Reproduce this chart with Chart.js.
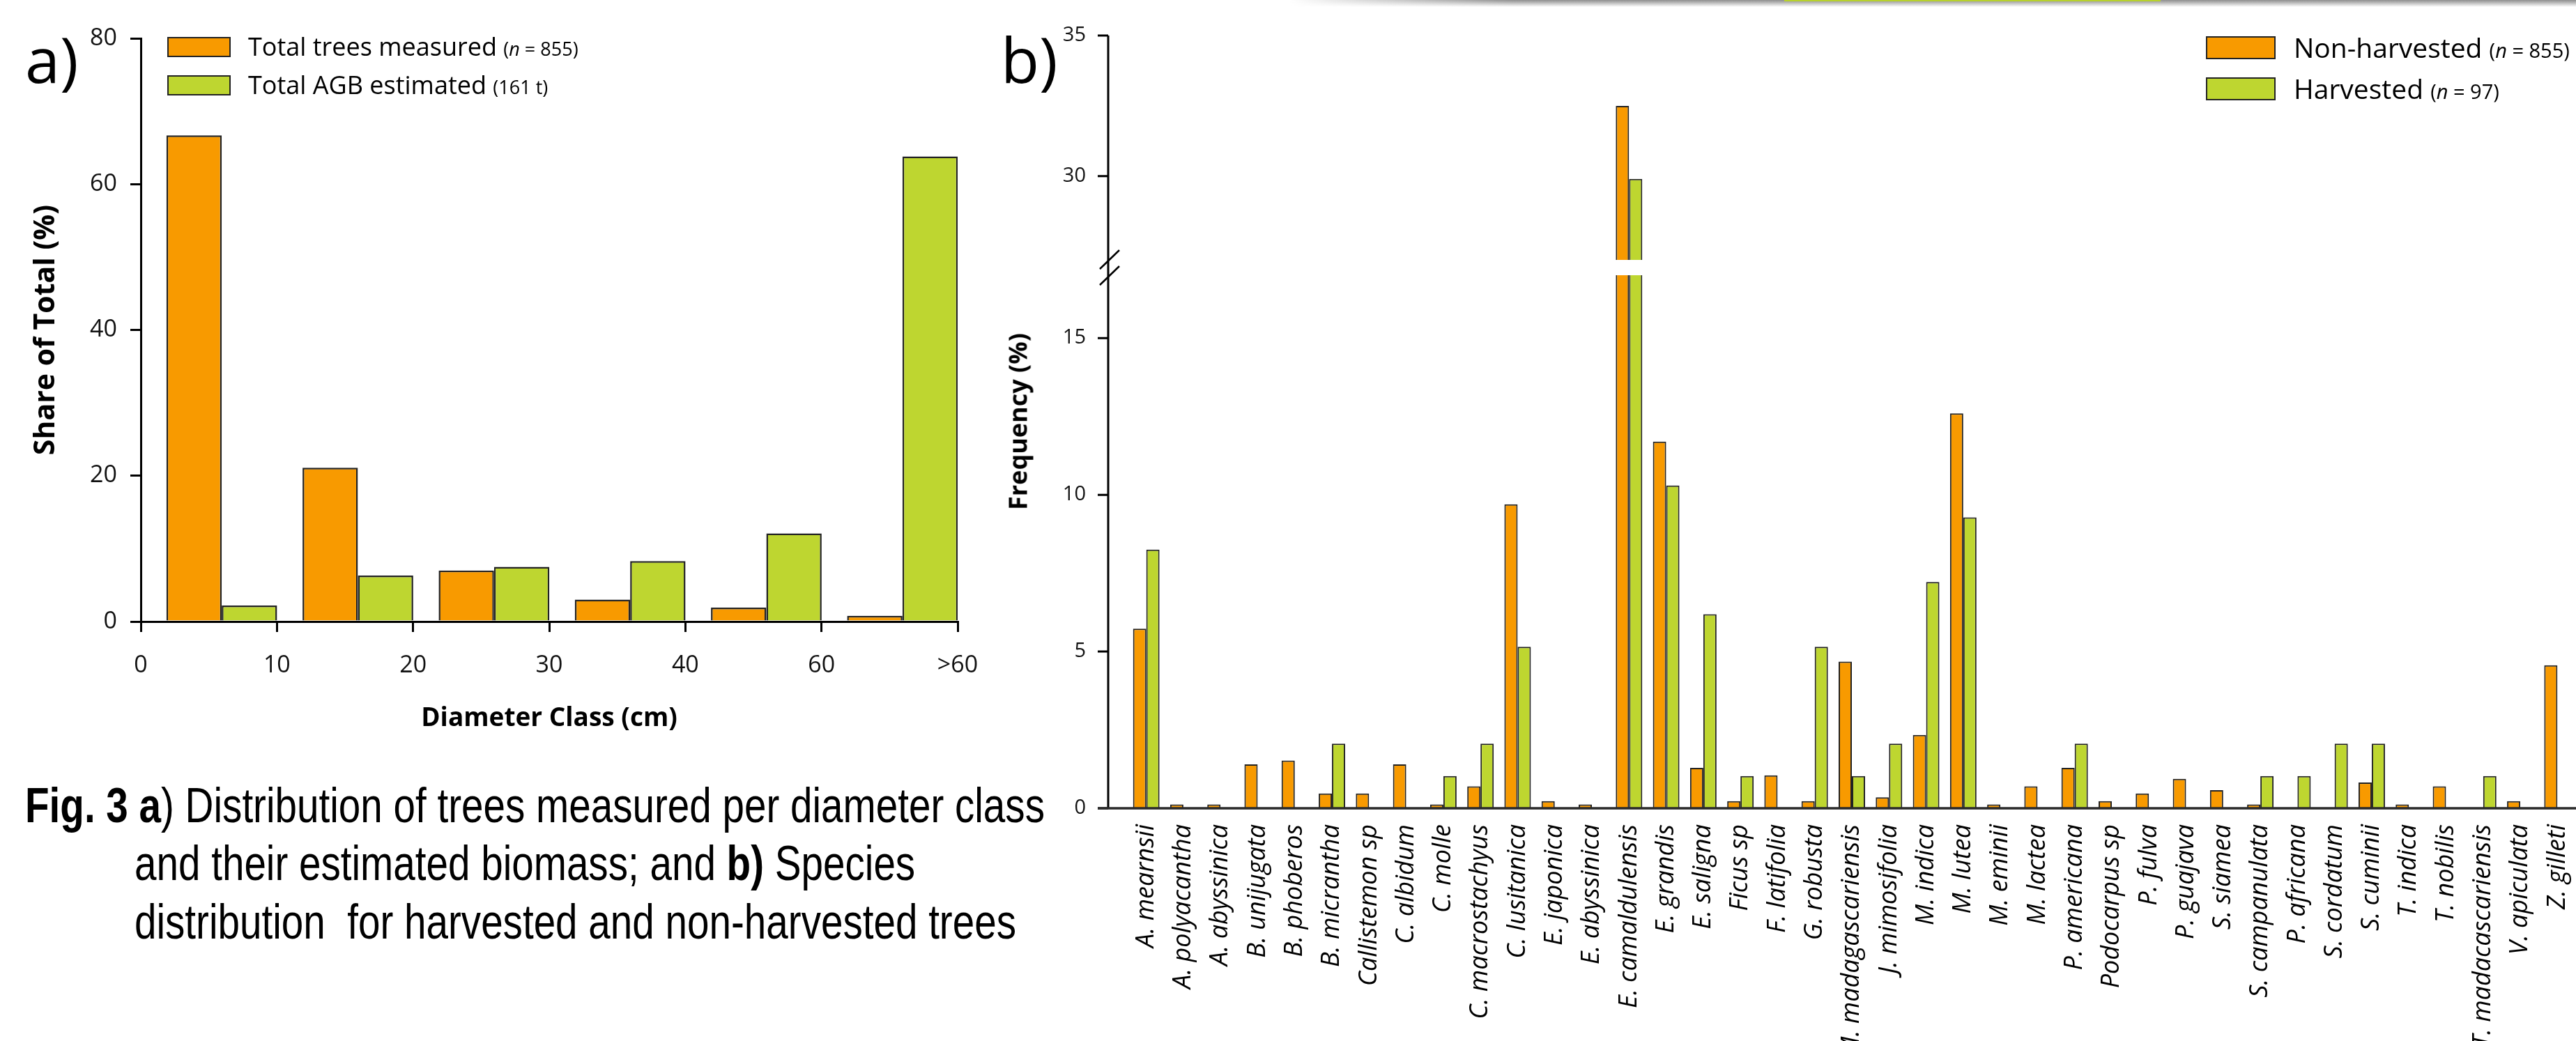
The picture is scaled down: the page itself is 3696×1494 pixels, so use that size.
<!DOCTYPE html>
<html>
<head>
<meta charset="utf-8">
<script src="https://cdn.jsdelivr.net/npm/chart.js@4/dist/chart.umd.min.js"></script>
<style>
  html, body { margin: 0; padding: 0; background: #fff; }
  body { width: 3696px; height: 1494px; position: relative; overflow: hidden; font-family: "Open Sans", sans-serif; color: #000; }
  canvas { position: absolute; top: 0; }
  #chartA { left: 0; }
  #chartB { left: 1380px; }
  .abs { position: absolute; white-space: nowrap; }
  .panel { font-size: 90px; line-height: 90px; }
  .box { position: absolute; border: 2px solid #222; box-sizing: border-box; }
  .leg { position: absolute; white-space: nowrap; }
  .cap { position: absolute; white-space: nowrap; font-family: "Liberation Sans", Arial, sans-serif; font-size: 70px; line-height: 84px; transform-origin: 0 0; }
  .ytitle { position: absolute; white-space: nowrap; font-family: "Open Sans", sans-serif; font-weight: bold; font-size: 36px; transform: translate(-50%, -50%) rotate(-90deg); }
  .shade { position: absolute; top: 0; left: 1850px; width: 1846px; height: 10px;
           background: linear-gradient(to bottom, #8e8e8e, rgba(255,255,255,0));
           -webkit-mask-image: linear-gradient(to right, transparent, #000 320px); }
  .gline { position: absolute; top: 0; left: 2560px; width: 540px; height: 2px; background: #b7d12c; }
</style>
</head>
<body>
<div class="shade"></div>
<div class="gline"></div>

<canvas id="chartA" width="1420" height="1090"></canvas>
<canvas id="chartB" width="2316" height="1494"></canvas>

<div class="abs panel" style="left:36px; top:39px;">a)</div>
<div class="abs panel" style="left:1436px; top:39px;">b)</div>

<!-- legend a -->
<div class="box" style="left:240px; top:53px; width:91px; height:29px; background:#F89A00;"></div>
<div class="box" style="left:240px; top:108px; width:91px; height:29px; background:#BED630;"></div>
<div class="leg" style="left:356px; top:49px; font-size:36px; line-height:36px;">Total trees measured <span style="font-size:27px">(<i>n</i> = 855)</span></div>
<div class="leg" style="left:356px; top:104px; font-size:36px; line-height:36px;">Total AGB estimated <span style="font-size:27px">(161 t)</span></div>

<!-- legend b -->
<div class="box" style="left:3165px; top:52px; width:100px; height:33px; background:#F89A00;"></div>
<div class="box" style="left:3165px; top:111px; width:100px; height:33px; background:#BED630;"></div>
<div class="leg" style="left:3291px; top:48px; font-size:39px; line-height:39px;">Non-harvested <span style="font-size:29px">(<i>n</i> = 855)</span></div>
<div class="leg" style="left:3291px; top:107px; font-size:39px; line-height:39px;">Harvested <span style="font-size:29px">(<i>n</i> = 97)</span></div>

<div class="ytitle" style="left:1460px; top:605px;">Frequency (%)</div>

<div class="cap" id="cap1" style="left:36px; top:1114px;"><b>Fig. 3 a</b>) Distribution of trees measured per diameter class</div>
<div class="cap" id="cap2" style="left:193px; top:1197px;">and their estimated biomass; and <b>b)</b> Species</div>
<div class="cap" id="cap3" style="left:193px; top:1281px;">distribution&nbsp; for harvested and non-harvested trees</div>

<script>
// ---- data: a) diameter classes ----
const diameterEdges = ['0', '10', '20', '30', '40', '60', '>60'];
const treesMeasured = [66.7, 21.1, 7.0, 3.0, 1.9, 0.8];
const agbEstimated = [2.2, 6.3, 7.5, 8.3, 12.1, 63.8];

// ---- data: b) species ----
const species = [
  'A. mearnsii', 'A. polyacantha', 'A. abyssinica', 'B. unijugata', 'B. phoberos',
  'B. micrantha', 'Callistemon sp', 'C. albidum', 'C. molle', 'C. macrostachyus',
  'C. lusitanica', 'E. japonica', 'E. abyssinica', 'E. camaldulensis', 'E. grandis',
  'E. saligna', 'Ficus sp', 'F. latifolia', 'G. robusta', 'M. madagascariensis',
  'J. mimosifolia', 'M. indica', 'M. lutea', 'M. eminii', 'M. lactea',
  'P. americana', 'Podocarpus sp', 'P. fulva', 'P. guajava', 'S. siamea',
  'S. campanulata', 'P. africana', 'S. cordatum', 'S. cuminii', 'T. indica',
  'T. nobilis', 'T. madacascariensis', 'V. apiculata', 'Z. gilleti'
];
const nonHarvested = [
  5.73, 0.12, 0.12, 1.40, 1.52,
  0.47, 0.47, 1.40, 0.12, 0.70,
  9.70, 0.23, 0.12, 32.5, 11.7,
  1.29, 0.23, 1.05, 0.23, 4.68,
  0.35, 2.34, 12.6, 0.12, 0.70,
  1.29, 0.23, 0.47, 0.94, 0.58,
  0.12, null, null, 0.82, 0.12,
  0.70, null, 0.23, 4.56
];
const harvested = [
  8.25, null, null, null, null,
  2.06, null, null, 1.03, 2.06,
  5.15, null, null, 29.9, 10.3,
  6.19, 1.03, null, 5.15, 1.03,
  2.06, 7.22, 9.28, null, null,
  2.06, null, null, null, null,
  1.03, 1.03, 2.06, 2.06, null,
  null, 1.03, null, null
];
const freqRangeLow = [0, 17.25];   // lower segment of the broken axis
const freqRangeUp = [26.75, 35];   // upper segment

const ORANGE = '#F89A00';
const GREEN = '#BED630';
const EDGE = '#222';

// ---------- chart a ----------
new Chart(document.getElementById('chartA'), {
  type: 'bar',
  data: {
    datasets: [
      { label: 'Total trees measured', data: treesMeasured.map((v, i) => ({x: i, y: v})),
        xAxisID: 'xb', backgroundColor: ORANGE },
      { label: 'Total AGB estimated', data: agbEstimated.map((v, i) => ({x: i, y: v})),
        xAxisID: 'xb', backgroundColor: GREEN }
    ]
  },
  options: {
    responsive: false,
    animation: false,
    devicePixelRatio: 1,
    layout: { padding: { top: 55, right: 46, left: 0, bottom: 0 } },
    datasets: { bar: { borderColor: EDGE, borderWidth: 2.5, borderSkipped: 'start', categoryPercentage: 0.813, barPercentage: 1 } },
    plugins: { legend: { display: false }, tooltip: { enabled: false } },
    scales: {
      // hidden axis that places the bar pairs against the right edge of each class
      xb: { type: 'linear', display: false, offset: false, grid: { offset: false },
            min: -0.5946, max: 5.4054, ticks: { stepSize: 1, includeBounds: false } },
      x: {
        type: 'linear', position: 'bottom', min: 0, max: 6, z: 1, offset: false,
        ticks: { stepSize: 1, padding: 28, color: '#111', font: { family: 'Open Sans', size: 34 },
                 callback: v => diameterEdges[Math.round(v)] },
        grid: { offset: false, drawOnChartArea: false, tickLength: 15, lineWidth: 3, color: '#000' },
        border: { color: '#000', width: 3 },
        title: { display: true, text: 'Diameter Class (cm)', color: '#000',
                 font: { family: 'Open Sans', weight: 'bold', size: 37 }, padding: { top: 0, bottom: 36 } },
        afterFit: s => { s.height = 198; s.paddingLeft = 0; s.paddingRight = 0; }
      },
      y: {
        min: 0, max: 80, z: 1,
        ticks: { stepSize: 20, padding: 19, color: '#111', font: { family: 'Open Sans', size: 34 } },
        grid: { drawOnChartArea: false, tickLength: 15, lineWidth: 3, color: '#000' },
        border: { color: '#000', width: 3 },
        title: { display: true, text: 'Share of Total (%)', color: '#000',
                 font: { family: 'Open Sans', weight: 'bold', size: 41 }, padding: { top: 42, bottom: 0 } },
        afterFit: s => { s.width = 202; s.paddingTop = 0; s.paddingBottom = 0; }
      }
    }
  }
});

// ---------- chart b (broken y axis) ----------
const LOW_MAX = freqRangeLow[1];
const UP_MIN = freqRangeUp[0];

const brokenAxis = {
  id: 'brokenAxis',
  afterDatasetsDraw(chart) {
    const {ctx, chartArea, scales: {yUp, yLow}} = chart;
    const axisX = chartArea.left - 28;
    const brk = yLow.top;
    const y0 = yLow.getPixelForValue(0);
    ctx.save();
    // white gap through the bars
    ctx.fillStyle = '#fff';
    ctx.fillRect(chartArea.left, brk - 11, chartArea.right - chartArea.left, 22);
    // y axis line and tick marks
    ctx.strokeStyle = '#000';
    ctx.lineWidth = 3;
    ctx.beginPath();
    ctx.moveTo(axisX, yUp.getPixelForValue(freqRangeUp[1]));
    ctx.lineTo(axisX, y0);
    yUp.ticks.forEach(t => { const p = yUp.getPixelForValue(t.value); ctx.moveTo(axisX - 15, p); ctx.lineTo(axisX, p); });
    yLow.ticks.forEach(t => { const p = yLow.getPixelForValue(t.value); ctx.moveTo(axisX - 15, p); ctx.lineTo(axisX, p); });
    ctx.stroke();
    // baseline
    ctx.strokeStyle = '#2a2a2a';
    ctx.lineWidth = 3.5;
    ctx.beginPath();
    ctx.moveTo(axisX - 15, y0);
    ctx.lineTo(chartArea.right, y0);
    ctx.stroke();
    // break marks
    ctx.strokeStyle = '#000';
    ctx.lineWidth = 2.5;
    ctx.beginPath();
    [brk - 11.5, brk + 11.5].forEach(c => { ctx.moveTo(axisX + 16, c - 13.5); ctx.lineTo(axisX - 12, c + 13.5); });
    ctx.stroke();
    ctx.restore();
  }
};

const lowPart = arr => arr.map(v => v == null ? null : Math.min(v, LOW_MAX));
const upPart = arr => arr.map(v => v != null && v > UP_MIN ? v : null);

const yTickFont = { family: 'Open Sans', size: 29 };
const fixY = s => { s.width = 238; s.paddingTop = 0; s.paddingBottom = 0; };

new Chart(document.getElementById('chartB'), {
  type: 'bar',
  data: {
    labels: species,
    datasets: [
      { label: 'Non-harvested', data: lowPart(nonHarvested), yAxisID: 'yLow', stack: 'non', backgroundColor: ORANGE },
      { label: 'Harvested', data: lowPart(harvested), yAxisID: 'yLow', stack: 'har', backgroundColor: GREEN },
      { label: 'Non-harvested', data: upPart(nonHarvested), yAxisID: 'yUp', stack: 'non', backgroundColor: ORANGE, base: UP_MIN },
      { label: 'Harvested', data: upPart(harvested), yAxisID: 'yUp', stack: 'har', backgroundColor: GREEN, base: UP_MIN }
    ]
  },
  options: {
    responsive: false,
    animation: false,
    devicePixelRatio: 1,
    layout: { padding: { top: 51, right: 0, left: 0, bottom: 0 } },
    datasets: { bar: { borderColor: EDGE, borderWidth: 2, borderSkipped: 'start', categoryPercentage: 0.713, barPercentage: 1 } },
    plugins: { legend: { display: false }, tooltip: { enabled: false } },
    scales: {
      x: {
        type: 'category', offset: true,
        grid: { display: false, drawTicks: false }, border: { display: false },
        ticks: { autoSkip: false, minRotation: 90, maxRotation: 90, padding: 23, color: '#000',
                 font: { family: 'Open Sans', style: 'italic', size: 36 } },
        afterFit: s => { s.height = 334; s.paddingLeft = 0; s.paddingRight = 0; }
      },
      // stacked left axes: listed bottom-first, the layout puts the last one on top
      yLow: {
        type: 'linear', position: 'left', stack: 'freq', stackWeight: 776,
        min: freqRangeLow[0], max: freqRangeLow[1],
        grid: { display: false, drawTicks: false }, border: { display: false },
        ticks: { stepSize: 5, includeBounds: false, padding: 60, color: '#111', font: yTickFont },
        afterFit: fixY
      },
      yUp: {
        type: 'linear', position: 'left', stack: 'freq', stackWeight: 333,
        min: freqRangeUp[0], max: freqRangeUp[1],
        grid: { display: false, drawTicks: false }, border: { display: false },
        ticks: { stepSize: 5, includeBounds: false, padding: 60, color: '#111', font: yTickFont },
        afterFit: fixY
      }
    }
  },
  plugins: [brokenAxis]
});

// caption: condensed to the width of the original text block
const cap1 = document.getElementById('cap1');
const k = 1463 / cap1.getBoundingClientRect().width;
['cap1', 'cap2', 'cap3'].forEach(id => {
  document.getElementById(id).style.transform = 'scaleX(' + k.toFixed(4) + ')';
});
</script>
</body>
</html>
